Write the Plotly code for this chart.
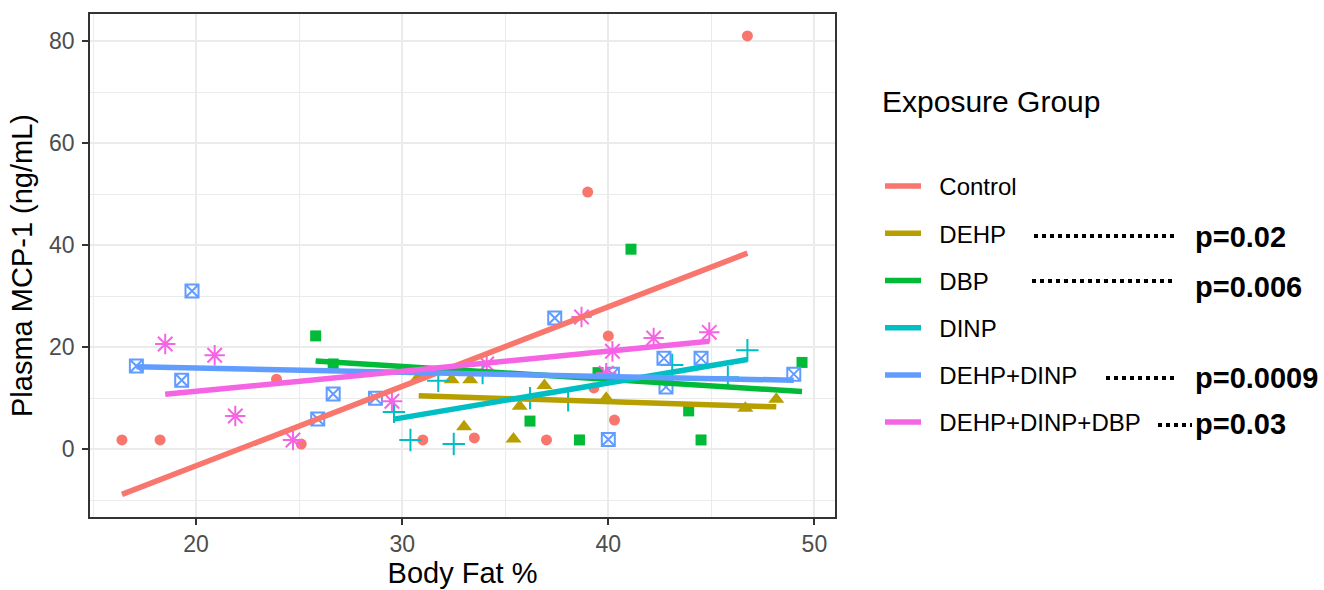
import numpy as np
import plotly.graph_objects as go

# Body fat % (x) and plasma MCP-1 in ng/mL (y) for each exposure group
groups = ["Control", "DEHP", "DBP", "DINP", "DEHP+DINP", "DEHP+DINP+DBP"]

control_x = [16.4, 18.25, 23.9, 25.1, 31.0, 33.5, 37.0, 39.0, 39.3, 40.0, 40.3, 46.75]
control_y = [1.8, 1.8, 13.7, 1.0, 1.8, 2.2, 1.8, 50.4, 12.0, 22.2, 5.7, 81.0]

dehp_x = [30.8, 32.4, 33.3, 33.0, 35.4, 35.7, 36.9, 39.9, 46.65, 48.15]
dehp_y = [14.2, 13.6, 13.6, 4.4, 2.0, 8.4, 12.5, 10.0, 8.0, 9.8]

dbp_x = [25.8, 26.65, 36.2, 38.6, 39.5, 41.1, 43.9, 44.5, 49.4]
dbp_y = [22.2, 16.7, 5.5, 1.8, 15.0, 39.2, 7.5, 1.8, 17.0]

dinp_x = [29.6, 30.4, 31.75, 32.5, 33.9, 36.2, 38.05, 43.1, 45.8, 46.75]
dinp_y = [7.3, 1.8, 13.4, 1.0, 14.9, 10.0, 9.6, 16.5, 14.1, 19.4]

dehp_dinp_x = [17.1, 19.3, 19.8, 25.9, 26.65, 28.7, 37.4, 40.0, 40.2, 42.7, 42.8, 44.5, 49.0]
dehp_dinp_y = [16.3, 13.5, 31.0, 5.9, 10.8, 10.0, 25.7, 1.9, 14.7, 17.8, 12.2, 17.8, 14.7]

dehp_dinp_dbp_x = [18.5, 20.9, 21.9, 24.7, 29.5, 34.1, 38.7, 39.9, 40.2, 42.2, 44.9]
dehp_dinp_dbp_y = [20.6, 18.4, 6.5, 1.8, 9.4, 16.7, 25.9, 14.9, 19.2, 21.8, 22.9]

# p-values shown next to the legend entries
p_groups = ["DEHP", "DBP", "DEHP+DINP", "DEHP+DINP+DBP"]
p_labels = ["p=0.02", "p=0.006", "p=0.0009", "p=0.03"]

x_ticks = [20, 30, 40, 50]
y_ticks = [0, 20, 40, 60, 80]

series_x = [control_x, dehp_x, dbp_x, dinp_x, dehp_dinp_x, dehp_dinp_dbp_x]
series_y = [control_y, dehp_y, dbp_y, dinp_y, dehp_dinp_y, dehp_dinp_dbp_y]

colors = ["#F8766D", "#B79F00", "#00BA38", "#00BFC4", "#619CFF", "#F564E3"]
symbols = ["circle", "triangle-up", "square", "cross-thin-open", "square-x-open", "asterisk-open"]
sizes = [11, 14, 11, 16, 13, 17]

FONT = "Liberation Sans, Arial"
PAD = "\u00a0\u00a0"  # spacing between legend key and label

fig = go.Figure()

# scatter points
for name, xs, ys, col, sym, sz in zip(groups, series_x, series_y, colors, symbols, sizes):
    open_sym = sym.endswith("-open")
    fig.add_trace(go.Scatter(
        x=xs, y=ys, mode="markers", name=name, legendgroup=name, showlegend=False,
        marker=dict(symbol=sym, size=sz, color=col,
                    line=dict(color=col, width=2 if open_sym else 0)),
        hoverinfo="x+y+name",
    ))

# least-squares fit per group, drawn across the group's x range
for name, xs, ys, col in zip(groups, series_x, series_y, colors):
    xa, ya = np.array(xs), np.array(ys)
    slope, intercept = np.polyfit(xa, ya, 1)
    fx = np.array([xa.min(), xa.max()])
    fig.add_trace(go.Scatter(
        x=fx, y=slope * fx + intercept, mode="lines", name=PAD + name, legendgroup=name,
        line=dict(color=col, width=5.5), showlegend=True,
    ))

# pixel helpers for the annotation area to the right of the panel
L, R, T, B = 90, 835, 14, 517
def px(xp):
    return (xp - L) / (R - L)
def py(yp):
    return (B - yp) / (B - T)

# dotted leaders and p-values beside the legend
leader_rows = [236, 281, 378, 425]
leader_start = [1034, 1032, 1106, 1158]
leader_end = [1175, 1175, 1175, 1192]
text_rows = [237, 287, 378, 424]
for y0, xs0, xe0, ty, lab in zip(leader_rows, leader_start, leader_end, text_rows, p_labels):
    fig.add_shape(type="line", xref="paper", yref="paper",
                  x0=px(xs0), x1=px(xe0), y0=py(y0), y1=py(y0),
                  line=dict(color="black", width=4, dash="dot"))
    fig.add_annotation(xref="paper", yref="paper", x=px(1193), y=py(ty),
                       xanchor="left", yanchor="middle", showarrow=False,
                       text="<b>" + lab + "</b>",
                       font=dict(family=FONT, size=29, color="black"))

# legend title
fig.add_annotation(xref="paper", yref="paper", x=px(880), y=py(101),
                   xanchor="left", yanchor="middle", showarrow=False,
                   text="Exposure Group",
                   font=dict(family=FONT, size=30, color="black"))

grid_major = "#EBEBEB"
fig.update_xaxes(
    range=[14.85, 51.0], tickvals=x_ticks, ticktext=[str(v) for v in x_ticks],
    automargin=False,
    showgrid=True, gridcolor=grid_major, gridwidth=1.6,
    minor=dict(tickvals=[15, 25, 35, 45], showgrid=True, gridcolor=grid_major, gridwidth=0.8,
               ticks=""),
    zeroline=False, showline=True, linecolor="#333333", linewidth=1.6, mirror=True,
    ticks="outside", ticklen=6, tickcolor="#333333", tickwidth=1.6,
    tickfont=dict(family=FONT, size=23, color="#4D4D4D"),
    title=dict(text="Body Fat %", font=dict(family=FONT, size=29, color="black"),
               standoff=4),
)
fig.update_yaxes(
    range=[-13.3, 85.3], tickvals=y_ticks, ticktext=[str(v) for v in y_ticks],
    automargin=False,
    showgrid=True, gridcolor=grid_major, gridwidth=1.6,
    minor=dict(tickvals=[-10, 10, 30, 50, 70], showgrid=True, gridcolor=grid_major, gridwidth=0.8,
               ticks=""),
    zeroline=False, showline=True, linecolor="#333333", linewidth=1.6, mirror=True,
    ticks="outside", ticklen=6, tickcolor="#333333", tickwidth=1.6, ticklabelstandoff=3,
    tickfont=dict(family=FONT, size=23, color="#4D4D4D"),
    title=dict(text="Plasma MCP-1 (ng/mL)", font=dict(family=FONT, size=29, color="black"),
               standoff=8),
)

fig.update_layout(
    width=1324, height=590,
    margin=dict(l=L, r=1324 - R, t=T, b=590 - B),
    paper_bgcolor="white", plot_bgcolor="white",
    font=dict(family=FONT),
    showlegend=True,
    legend=dict(
        x=px(880), y=py(164), xanchor="left", yanchor="top",
        font=dict(family=FONT, size=24, color="black"),
        traceorder="grouped", tracegroupgap=13, itemwidth=36,
        bgcolor="rgba(0,0,0,0)",
    ),
)

fig.write_html("out.html")
